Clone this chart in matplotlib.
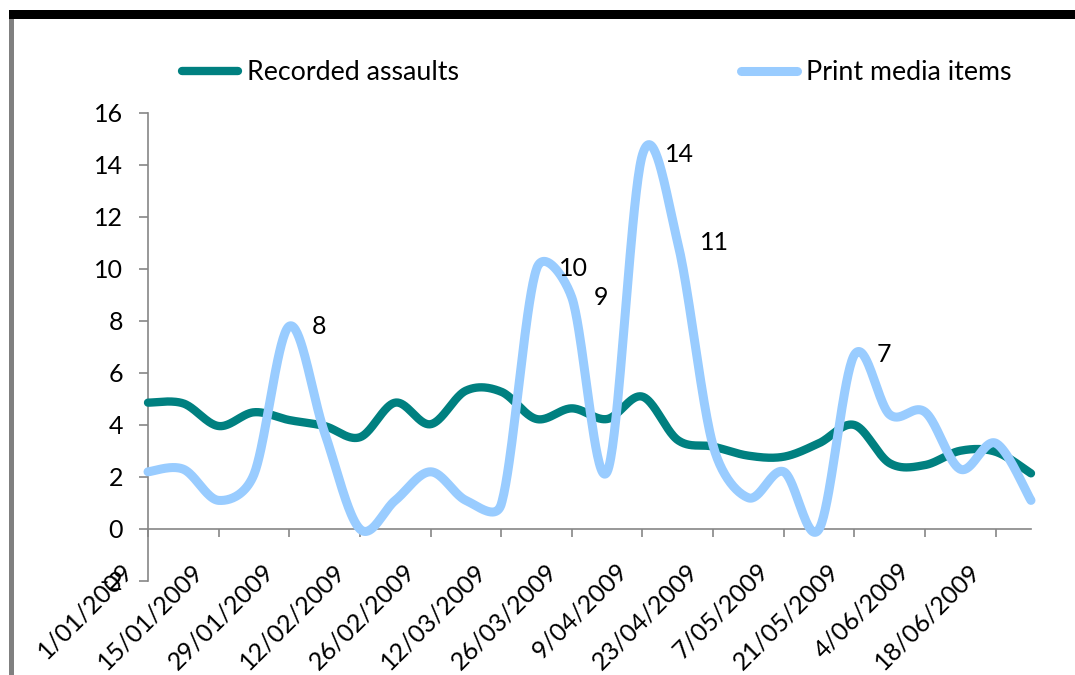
import numpy as np
import matplotlib
matplotlib.use("Agg")
import matplotlib.pyplot as plt
from matplotlib.lines import Line2D
from matplotlib.patches import Rectangle
from matplotlib.transforms import ScaledTranslation

plt.rcParams['font.family'] = ['Lato', 'DejaVu Sans']

dates = ["1/01/2009", "8/01/2009", "15/01/2009", "22/01/2009", "29/01/2009",
         "5/02/2009", "12/02/2009", "19/02/2009", "26/02/2009", "5/03/2009",
         "12/03/2009", "19/03/2009", "26/03/2009", "2/04/2009", "9/04/2009",
         "16/04/2009", "23/04/2009", "30/04/2009", "7/05/2009", "14/05/2009",
         "21/05/2009", "28/05/2009", "4/06/2009", "11/06/2009", "18/06/2009",
         "25/06/2009"]

recorded_assaults = [4.86, 4.83, 3.96, 4.49, 4.19, 3.96, 3.53, 4.86, 4.03, 5.32,
                     5.28, 4.23, 4.64, 4.23, 5.09, 3.42, 3.17, 2.82, 2.78, 3.30,
                     4.00, 2.53, 2.46, 3.01, 2.97, 2.14]

print_media = [2.2, 2.3, 1.1, 2.1, 7.8, 3.7, 0.0, 1.1, 2.2, 1.1,
               0.95, 10.0, 8.9, 2.2, 14.4, 11.0, 3.2, 1.2, 2.2, 0.0,
               6.7, 4.4, 4.5, 2.3, 3.3, 1.1]

labelled_points = [4, 11, 12, 14, 15, 20]

yticks = [-2, 0, 2, 4, 6, 8, 10, 12, 14, 16]

TEAL = "#008080"
LIGHT = "#99CCFF"
AXIS_GREY = "#868686"
FS = 18
LEG_FS = 19.3


def excel_smooth(ax, xs, ys, n=40):
    """Excel-style smoothed line: Bezier segments computed in screen space,
    control arms = 1/6 of neighbour chord, capped at half the segment length."""
    pts = ax.transData.transform(np.column_stack([xs, ys]).astype(float))
    m = len(pts)
    out = []
    for i in range(m - 1):
        p0 = pts[i - 1] if i > 0 else pts[i]
        p1 = pts[i]
        p2 = pts[i + 1]
        p3 = pts[i + 2] if i + 2 < m else pts[i + 1]
        d12 = np.hypot(*(p2 - p1))
        a1 = (p2 - p0) / 6.0
        a2 = (p3 - p1) / 6.0
        l1 = np.hypot(*a1)
        l2 = np.hypot(*a2)
        if l1 > d12 / 2 and l1 > 0:
            a1 = a1 * (d12 / 2) / l1
        if l2 > d12 / 2 and l2 > 0:
            a2 = a2 * (d12 / 2) / l2
        c1 = p1 + a1
        c2 = p2 - a2
        t = np.linspace(0, 1, n, endpoint=(i == m - 2))[:, None]
        seg = ((1 - t) ** 3) * p1 + 3 * ((1 - t) ** 2) * t * c1 + 3 * (1 - t) * (t ** 2) * c2 + (t ** 3) * p2
        out.append(seg)
    s = ax.transData.inverted().transform(np.vstack(out))
    return s[:, 0], s[:, 1]


fig = plt.figure(figsize=(10.75, 6.75), dpi=100)
ax = fig.add_axes([148 / 1075, 1 - 581 / 675, (1031 - 148) / 1075, (581 - 113) / 675])

x = np.arange(len(dates))
ax.set_xlim(0, len(dates) - 1)
ax.set_ylim(-2, 16)

sx, sy = excel_smooth(ax, x, recorded_assaults)
ax.plot(sx, sy, color=TEAL, lw=6.0, solid_capstyle='round', solid_joinstyle='round',
        clip_on=False, zorder=3)
sx, sy = excel_smooth(ax, x, print_media)
ax.plot(sx, sy, color=LIGHT, lw=6.5, solid_capstyle='round', solid_joinstyle='round',
        clip_on=False, zorder=3)

for i in labelled_points:
    ax.annotate(f"{print_media[i]:.0f}", (x[i], print_media[i]), xytext=(16, 0),
                textcoords='offset points', ha='left', va='center', fontsize=FS,
                color='black', zorder=4)

ax.set_yticks(yticks)
ax.set_yticklabels([str(v) for v in yticks])
ax.set_xticks(x[::2])
ax.set_xticklabels(dates[::2])

for s in ['top', 'right']:
    ax.spines[s].set_visible(False)
ax.spines['bottom'].set_position(('data', 0))
for s in ['left', 'bottom']:
    ax.spines[s].set_color(AXIS_GREY)
    ax.spines[s].set_linewidth(1.2)

ax.tick_params(axis='y', direction='out', length=6.5, width=1.2, color=AXIS_GREY,
               pad=11.5, labelsize=FS, labelcolor='black')
ax.tick_params(axis='x', direction='out', length=5.8, width=1.2, color=AXIS_GREY,
               pad=21.5, labelsize=FS, labelcolor='black')
offset = ScaledTranslation(-0.19, 0, fig.dpi_scale_trans)
for lab in ax.get_xticklabels():
    lab.set_rotation(45)
    lab.set_ha('right')
    lab.set_va('center')
    lab.set_rotation_mode('anchor')
    lab.set_transform(lab.get_transform() + offset)
    lab.set_zorder(5)

handles = [Line2D([], [], color=TEAL, lw=6.0, solid_capstyle='round'),
           Line2D([], [], color=LIGHT, lw=6.5, solid_capstyle='round')]
leg = ax.legend(handles, ["Recorded assaults", "Print media items"], ncol=2,
                loc='center left', bbox_to_anchor=(182 / 1075, 1 - 73 / 675),
                bbox_transform=fig.transFigure, frameon=False, fontsize=LEG_FS,
                borderpad=0, borderaxespad=0, handlelength=2.1, handletextpad=0.33,
                columnspacing=10.5)

fig.add_artist(Rectangle((9 / 1075, 1 - 19 / 675), 1 - 9 / 1075, 9 / 675,
                         transform=fig.transFigure, color='black', lw=0))
fig.add_artist(Rectangle((9 / 1075, 0), 5 / 1075, 1 - 19 / 675,
                         transform=fig.transFigure, color='#808080', lw=0))

fig.savefig("out.png", dpi=100)
